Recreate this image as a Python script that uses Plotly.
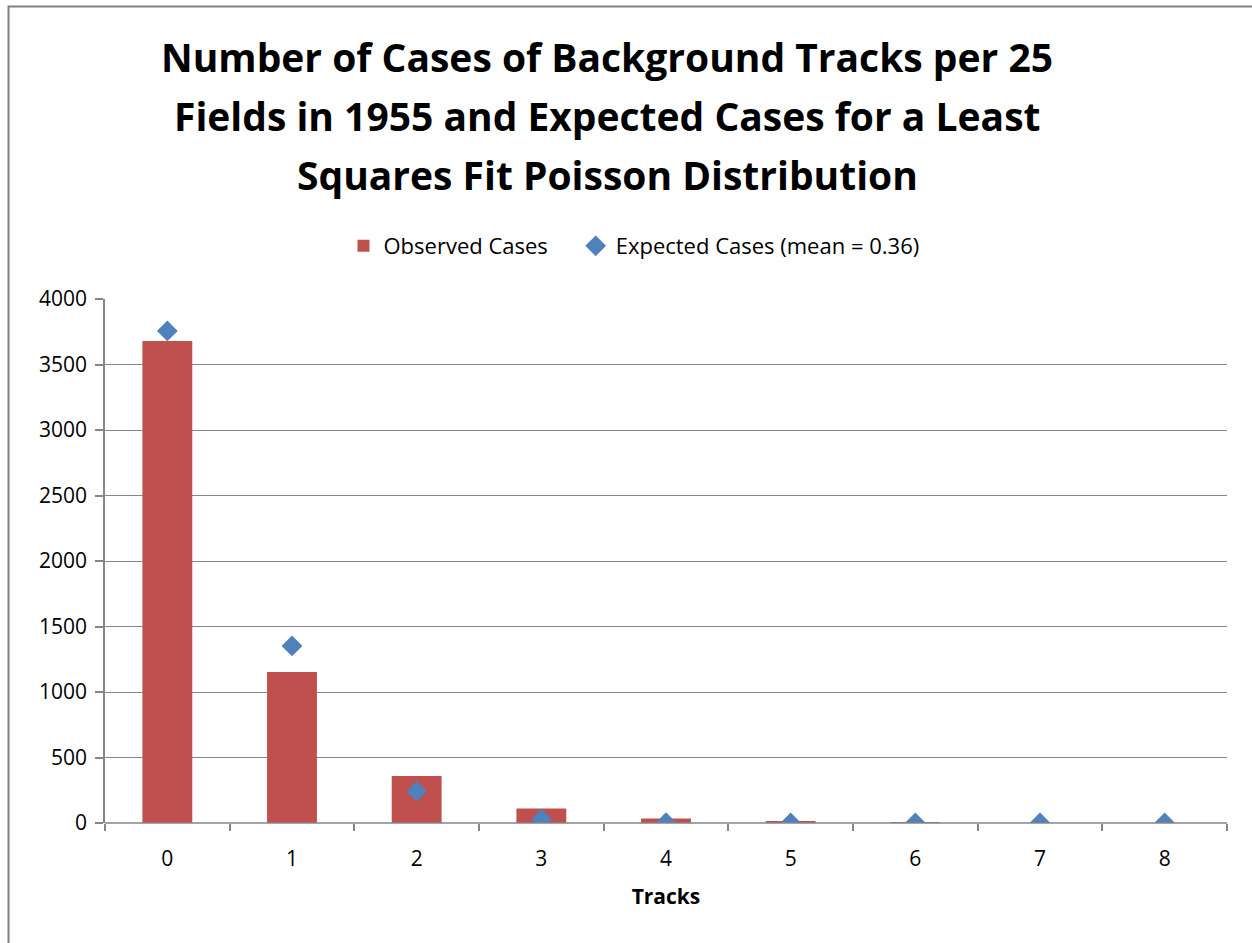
import plotly.graph_objects as go

tracks = [0, 1, 2, 3, 4, 5, 6, 7, 8]
observed = [3680, 1153, 359, 110, 34, 11, 3, 0, 0]
expected = [3756, 1352, 243, 29, 2.6, 0.19, 0.01, 0.0005, 0.00003]
tick_labels = ["0", "1", "2", "3", "4", "5", "6", "7", "8"]
title_lines = [
    "Number of Cases of Background Tracks per 25",
    "Fields in 1955 and Expected Cases for a Least",
    "Squares Fit Poisson Distribution",
]

FONT = "Open Sans"
GRID = "#868686"

fig = go.Figure()
fig.add_trace(go.Bar(
    x=tracks, y=observed, name="Observed Cases" + "\u00a0" * 4,
    marker=dict(color="#C0504D", line=dict(width=0)),
    width=0.4,
))
fig.add_trace(go.Scatter(
    x=tracks, y=expected, name="Expected Cases (mean = 0.36)",
    mode="markers",
    marker=dict(symbol="diamond", size=16, color="#4F81BD"),
))

L, R, T, B = 105, 25, 299, 120
W, H = 1252, 943
pw, ph = W - L - R, H - T - B

def px_x(px):
    return (px - L) / pw

def px_y(py):
    return (H - B - py) / ph

title_y = [57, 116, 175]
annotations = [
    dict(text="<b>%s</b>" % t, xref="paper", yref="paper",
         x=px_x(607), y=px_y(yy), xanchor="center", yanchor="middle",
         showarrow=False, font=dict(family=FONT, size=39, color="black"))
    for t, yy in zip(title_lines, title_y)
]

fig.update_layout(
    width=W, height=H,
    margin=dict(l=L, r=R, t=T, b=B),
    paper_bgcolor="white", plot_bgcolor="white",
    font=dict(family=FONT, size=20, color="black"),
    showlegend=True,
    legend=dict(orientation="h", x=px_x(634), xanchor="center",
                y=px_y(246), yanchor="middle",
                font=dict(family=FONT, size=22),
                itemwidth=30, tracegroupgap=0),
    xaxis=dict(
        range=[-0.5, 8.5], tickvals=tracks, ticktext=tick_labels,
        ticks="", showgrid=False, zeroline=False,
        showline=False,
        minor=dict(tick0=-0.5, dtick=1, ticks="outside", ticklen=7,
                   tickcolor=GRID, tickwidth=1.5, showgrid=False),
        title=dict(text="<b>Tracks</b>", font=dict(family=FONT, size=21), standoff=18),
        tickfont=dict(size=21), ticklabelstandoff=21,
    ),
    yaxis=dict(
        range=[0, 4000], dtick=500, showgrid=True, gridcolor=GRID, gridwidth=1.2,
        zeroline=False, showline=True, linecolor=GRID, linewidth=1.5,
        ticks="outside", ticklen=8, tickcolor=GRID, tickwidth=1.5,
        tickfont=dict(size=21), ticklabelstandoff=4,
    ),
    shapes=[
        dict(type="line", xref="paper", yref="paper", x0=0, x1=1, y0=0, y1=0,
             line=dict(color=GRID, width=1.5)),
        dict(type="rect", xref="paper", yref="paper",
             x0=px_x(8.5), x1=px_x(1275), y0=px_y(6.5), y1=px_y(965),
             line=dict(color="#808080", width=2), layer="below"),
    ],
    annotations=annotations,
)

fig.write_html("out.html", config={"displayModeBar": False},
               post_script="document.body.style.margin='0';")
